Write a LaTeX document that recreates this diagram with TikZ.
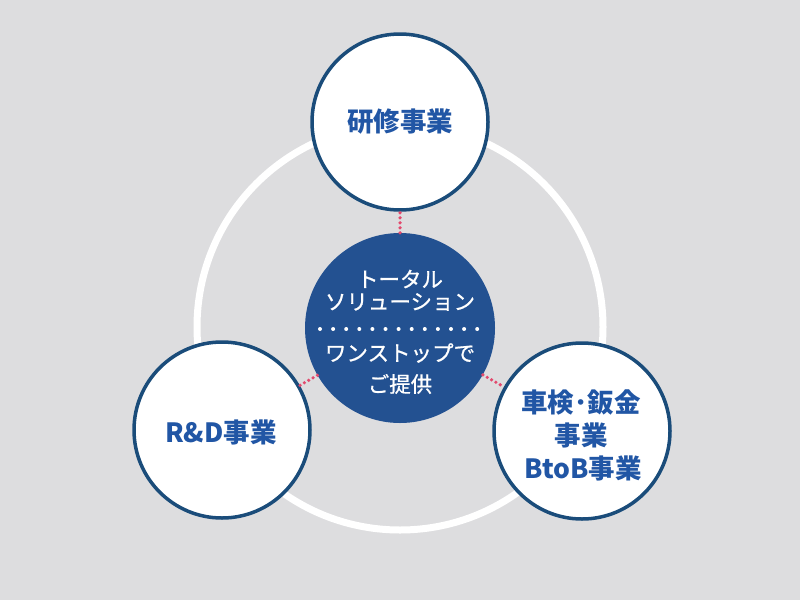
\documentclass[tikz,border=0pt]{standalone}
\usepackage{fontspec}
\setmainfont{Noto Sans CJK JP}
\newfontfamily\hubfont[FakeBold=0.8]{Noto Sans CJK JP}
\definecolor{bgcol}{RGB}{221,221,223}
\definecolor{centerblue}{RGB}{35,81,145}
\definecolor{satborder}{RGB}{26,76,122}
\definecolor{sattextcol}{RGB}{33,86,165}
\definecolor{linkpink}{RGB}{226,74,110}
\begin{document}
\begin{tikzpicture}[x=1pt,y=-1pt,
  sat/.style={circle, draw=satborder, line width=3.5pt, fill=white, minimum size=176pt, inner sep=0pt},
  hub/.style={circle, fill=centerblue, minimum size=190pt, inner sep=0pt},
  sattext/.style={text=sattextcol, font=\fontsize{26.5}{33}\selectfont\bfseries, align=center, inner sep=0pt},
  hubtext/.style={text=white, font=\hubfont\fontsize{21.5}{25}\selectfont, align=center, inner sep=0pt},
  link/.style={draw=linkpink, line width=3.6pt, line cap=round, dash pattern=on 0pt off 5pt},
  ring/.style={draw=white, line width=7pt}
  ]
\useasboundingbox[fill=bgcol] (0,0) rectangle (800,600);
\coordinate (o) at (400,327);
\draw[ring] (o) circle (203pt);
\node[hub] (hub) at (400,328) {};
\node[sat] (top) at (400,122) {};
\node[sat] (left) at (222,430) {};
\node[sat] (right) at (582,431) {};
\draw[link] (hub) -- (top);
\draw[link] (hub) -- (left);
\draw[link] (hub) -- (right);
\foreach \i in {0,...,12} \fill[white] (320+\i*13.1,329) circle (2pt);
\node[hubtext] (h1) at (400,279) {トータル};
\node[hubtext] (h2) at (400,302) {ソリューション};
\node[hubtext] (h3) at (400,353) {ワンストップで};
\node[hubtext] (h4) at (400,384) {ご提供};
\node[sattext] (t1) at (400,122) {研修事業};
\node[sattext] (t2) at (221,432) {R\&D事業};
\node[sattext] (t3) at (581,435) {車検･鈑金\\事業\\\hspace*{4pt}BtoB事業};
\end{tikzpicture}
\end{document}
